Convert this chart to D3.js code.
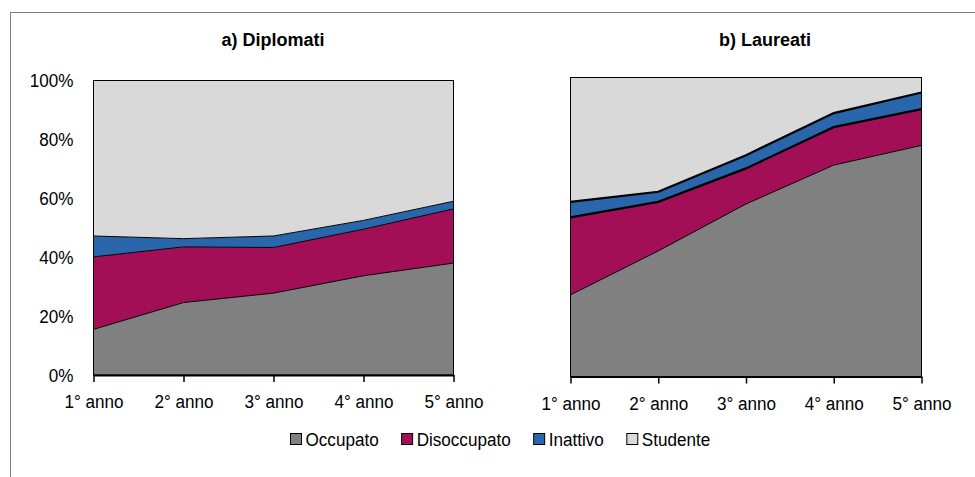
<!DOCTYPE html>
<html>
<head>
<meta charset="utf-8">
<script src="https://cdn.jsdelivr.net/npm/d3@7"></script>
<style>
  html, body { margin: 0; padding: 0; background: #fff; }
  svg { display: block; }
  text { font-family: "Liberation Sans", Arial, sans-serif; fill: #000; }
</style>
</head>
<body>
<svg id="chart" width="975" height="477"></svg>
<script>
// ---- Data ----
const years = ["1° anno", "2° anno", "3° anno", "4° anno", "5° anno"];
const seriesNames = ["Occupato", "Disoccupato", "Inattivo", "Studente"];
const seriesColors = ["#808080", "#A20F56", "#2A66AC", "#D9D9D9"];
const yTicks = [0, 20, 40, 60, 80, 100];

const titleDiplomati = "a) Diplomati";
const dipOccupato    = [15.5, 24.6, 27.8, 33.7, 38.0];
const dipDisoccupato = [24.6, 18.9, 15.5, 15.8, 18.4];
const dipInattivo    = [7.1, 2.8, 3.9, 3.0, 2.6];
const dipStudente    = [52.8, 53.7, 52.8, 47.5, 41.0];

const titleLaureati = "b) Laureati";
const laurOccupato    = [27.3, 42.0, 57.7, 70.7, 77.3];
const laurDisoccupato = [25.9, 16.4, 11.9, 12.7, 12.1];
const laurInattivo    = [5.2, 3.4, 4.4, 4.7, 5.6];
const laurStudente    = [41.6, 38.2, 26.0, 11.9, 5.0];

// ---- Drawing ----
const SX = 0.9;      // horizontal condensing of the narrow-looking labels
const FS = 19;
const svg = d3.select("#chart");
const W = 975, H = 477;

svg.append("rect")
  .attr("x", 10.5).attr("y", 12.5)
  .attr("width", W).attr("height", H)
  .attr("fill", "#fff").attr("stroke", "#808080").attr("stroke-width", 1);

function buildRows(arrs) {
  return years.map((y, i) => {
    const r = { year: y };
    seriesNames.forEach((s, k) => r[s] = arrs[k][i]);
    return r;
  });
}

function panel(opts) {
  const { x0, x1, y0, y1, title, titleX, arrs, showY, lineWidths } = opts;
  const g = svg.append("g");
  const x = d3.scalePoint().domain(years).range([x0, x1]);
  const y = d3.scaleLinear().domain([0, 100]).range([y1, y0]);
  const stacked = d3.stack().keys(seriesNames)(buildRows(arrs));

  const area = d3.area()
    .x(d => x(d.data.year))
    .y0(d => y(d[0]))
    .y1(d => y(d[1]));
  g.selectAll("path.area").data(stacked).join("path")
    .attr("class", "area")
    .attr("d", area)
    .attr("fill", (d, i) => seriesColors[i]);

  const line = d3.line().x(d => x(d.data.year)).y(d => y(d[1]));
  stacked.slice(0, 3).forEach((s, i) => {
    g.append("path").attr("d", line(s))
      .attr("fill", "none").attr("stroke", "#000")
      .attr("stroke-width", lineWidths[i])
      .attr("stroke-linejoin", "miter");
  });

  // plot frame
  g.append("rect")
    .attr("x", x0).attr("y", y0)
    .attr("width", x1 - x0).attr("height", y1 - y0)
    .attr("fill", "none").attr("stroke", "#000").attr("stroke-width", 1);

  // x axis
  const xa = g.append("g").attr("transform", `translate(0,${y1})`)
    .call(d3.axisBottom(x).tickSizeInner(7).tickSizeOuter(0).tickPadding(13));
  xa.attr("font-family", null).attr("font-size", null);
  xa.select(".domain").attr("stroke", "#000").attr("stroke-width", 2);
  xa.selectAll(".tick line").attr("stroke", "#000").attr("stroke-width", 1.5);
  xa.selectAll(".tick text").attr("font-size", FS).attr("dy", "0.71em")
    .attr("transform", `scale(${SX},1)`);

  if (showY) {
    const ya = g.append("g").attr("transform", `translate(${x0},0)`)
      .call(d3.axisLeft(y).tickValues(yTicks).tickFormat(d => d + "%").tickSize(0).tickPadding(20));
    ya.attr("font-family", null).attr("font-size", null);
    ya.select(".domain").remove();
    ya.selectAll(".tick text").attr("font-size", FS)
      .attr("x", -20 / SX)
      .attr("transform", `scale(${SX},1)`);
  }

  svg.append("text")
    .attr("x", titleX).attr("y", 46)
    .attr("text-anchor", "middle")
    .attr("font-size", 18).attr("font-weight", "bold")
    .text(title);
}

panel({ x0: 93.5, x1: 453.5, y0: 80.5, y1: 375, title: titleDiplomati, titleX: 273,
        arrs: [dipOccupato, dipDisoccupato, dipInattivo, dipStudente], showY: true,
        lineWidths: [1, 1, 1] });
panel({ x0: 570.5, x1: 921.5, y0: 77.5, y1: 376.5, title: titleLaureati, titleX: 765,
        arrs: [laurOccupato, laurDisoccupato, laurInattivo, laurStudente], showY: false,
        lineWidths: [1, 2.2, 2.2] });

// legend
const leg = svg.append("g");
let lx = 290.5;
seriesNames.forEach((name, i) => {
  leg.append("rect").attr("x", lx).attr("y", 433.5).attr("width", 11).attr("height", 11)
    .attr("fill", seriesColors[i]).attr("stroke", "#000").attr("stroke-width", 1);
  const t = leg.append("text")
    .attr("transform", `translate(${lx + 15},446) scale(${SX},1)`)
    .attr("font-size", FS).text(name);
  const w = t.node().getComputedTextLength() * SX;
  lx = lx + 15 + w + 23;
});
</script>
</body>
</html>
